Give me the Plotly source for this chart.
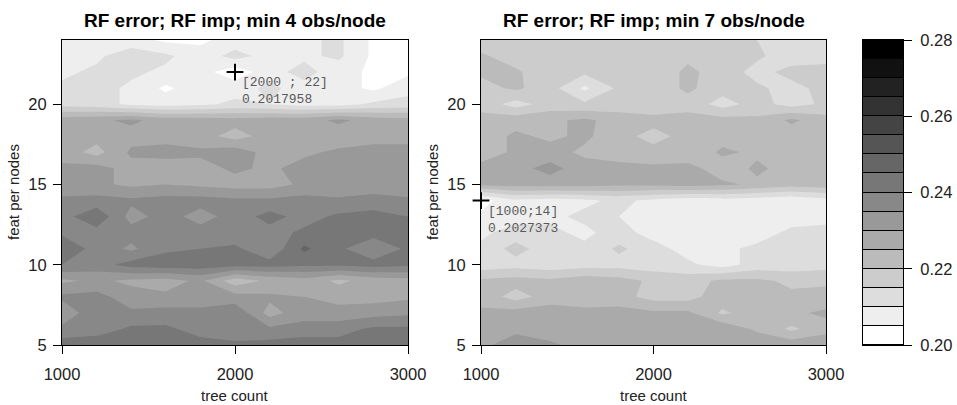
import plotly.graph_objects as go

# ---------------- data ----------------
tree_count = [1000, 1200, 1400, 1600, 1800, 2000, 2200, 2400, 2600, 2800, 3000]
feat_per_node = list(range(5, 25))

# rows: feat per node 5..24 ; columns: tree count 1000..3000
err_min4 = [
    [0.243, 0.244, 0.243, 0.242, 0.242, 0.241, 0.242, 0.243, 0.242, 0.241, 0.242],  # 5
    [0.236, 0.237, 0.241, 0.241, 0.238, 0.237, 0.236, 0.237, 0.238, 0.241, 0.241],  # 6
    [0.232, 0.238, 0.236, 0.237, 0.236, 0.239, 0.228, 0.233, 0.232, 0.233, 0.234],  # 7
    [0.236, 0.237, 0.232, 0.231, 0.233, 0.232, 0.231, 0.230, 0.228, 0.228, 0.229],  # 8
    [0.229, 0.231, 0.229, 0.228, 0.231, 0.222, 0.226, 0.228, 0.224, 0.227, 0.228],  # 9
    [0.240, 0.238, 0.242, 0.243, 0.243, 0.242, 0.242, 0.241, 0.241, 0.242, 0.241],  # 10
    [0.244, 0.238, 0.234, 0.239, 0.240, 0.241, 0.236, 0.246, 0.241, 0.236, 0.241],  # 11
    [0.239, 0.238, 0.237, 0.238, 0.237, 0.237, 0.238, 0.241, 0.242, 0.242, 0.241],  # 12
    [0.238, 0.244, 0.233, 0.237, 0.233, 0.237, 0.242, 0.238, 0.241, 0.242, 0.240],  # 13
    [0.236, 0.237, 0.236, 0.237, 0.237, 0.236, 0.236, 0.237, 0.236, 0.237, 0.236],  # 14
    [0.232, 0.231, 0.229, 0.230, 0.229, 0.228, 0.228, 0.231, 0.231, 0.232, 0.231],  # 15
    [0.231, 0.232, 0.228, 0.227, 0.228, 0.231, 0.229, 0.232, 0.233, 0.232, 0.233],  # 16
    [0.228, 0.223, 0.231, 0.232, 0.231, 0.233, 0.228, 0.229, 0.231, 0.232, 0.232],  # 17
    [0.228, 0.227, 0.228, 0.228, 0.227, 0.223, 0.227, 0.228, 0.227, 0.228, 0.228],  # 18
    [0.228, 0.229, 0.231, 0.228, 0.228, 0.227, 0.228, 0.228, 0.231, 0.228, 0.227],  # 19
    [0.213, 0.212, 0.209, 0.208, 0.209, 0.211, 0.210, 0.208, 0.208, 0.211, 0.212],  # 20
    [0.211, 0.212, 0.209, 0.204, 0.208, 0.208, 0.211, 0.208, 0.207, 0.204, 0.208],  # 21
    [0.209, 0.211, 0.211, 0.209, 0.207, 0.2017958, 0.208, 0.212, 0.207, 0.204, 0.204],  # 22
    [0.208, 0.209, 0.213, 0.211, 0.207, 0.212, 0.208, 0.209, 0.211, 0.204, 0.204],  # 23
    [0.209, 0.208, 0.207, 0.204, 0.204, 0.207, 0.208, 0.209, 0.211, 0.204, 0.205],  # 24
]

err_min7 = [
    [0.229, 0.232, 0.231, 0.228, 0.229, 0.229, 0.230, 0.229, 0.229, 0.228, 0.229],  # 5
    [0.228, 0.229, 0.227, 0.228, 0.227, 0.228, 0.227, 0.229, 0.224, 0.219, 0.223],  # 6
    [0.226, 0.227, 0.228, 0.226, 0.227, 0.226, 0.226, 0.219, 0.223, 0.224, 0.226],  # 7
    [0.223, 0.218, 0.222, 0.223, 0.222, 0.218, 0.218, 0.223, 0.222, 0.221, 0.222],  # 8
    [0.221, 0.222, 0.221, 0.223, 0.222, 0.219, 0.218, 0.221, 0.221, 0.219, 0.219],  # 9
    [0.212, 0.213, 0.212, 0.213, 0.213, 0.212, 0.211, 0.208, 0.212, 0.212, 0.213],  # 10
    [0.211, 0.217, 0.212, 0.211, 0.216, 0.212, 0.208, 0.209, 0.211, 0.212, 0.211],  # 11
    [0.209, 0.212, 0.211, 0.209, 0.212, 0.208, 0.207, 0.208, 0.208, 0.211, 0.211],  # 12
    [0.206, 0.208, 0.209, 0.211, 0.210, 0.209, 0.207, 0.206, 0.207, 0.208, 0.209],  # 13
    [0.2027373, 0.209, 0.208, 0.209, 0.211, 0.209, 0.207, 0.208, 0.207, 0.206, 0.208],  # 14
    [0.226, 0.227, 0.227, 0.227, 0.226, 0.226, 0.227, 0.226, 0.224, 0.222, 0.223],  # 15
    [0.227, 0.228, 0.232, 0.227, 0.227, 0.226, 0.227, 0.222, 0.226, 0.223, 0.224],  # 16
    [0.222, 0.226, 0.227, 0.224, 0.222, 0.222, 0.221, 0.226, 0.224, 0.223, 0.222],  # 17
    [0.222, 0.226, 0.224, 0.226, 0.222, 0.218, 0.222, 0.223, 0.223, 0.222, 0.222],  # 18
    [0.222, 0.223, 0.224, 0.226, 0.223, 0.222, 0.222, 0.222, 0.221, 0.226, 0.222],  # 19
    [0.218, 0.213, 0.217, 0.216, 0.217, 0.216, 0.218, 0.213, 0.217, 0.213, 0.216],  # 20
    [0.218, 0.221, 0.217, 0.209, 0.216, 0.217, 0.221, 0.217, 0.216, 0.213, 0.217],  # 21
    [0.221, 0.221, 0.216, 0.216, 0.219, 0.217, 0.221, 0.218, 0.213, 0.217, 0.216],  # 22
    [0.221, 0.217, 0.216, 0.217, 0.220, 0.218, 0.219, 0.217, 0.216, 0.212, 0.214],  # 23
    [0.216, 0.219, 0.216, 0.215, 0.218, 0.217, 0.216, 0.216, 0.215, 0.215, 0.213],  # 24
]

level_start, level_end, level_step = 0.20, 0.28, 0.005
n_bins = 16
bin_centers = [round(level_start + level_step * (k + 0.5), 4) for k in range(n_bins)]
colorbar_ticks = [0.20, 0.22, 0.24, 0.26, 0.28]

titles = ["RF error; RF imp; min 4 obs/node", "RF error; RF imp; min 7 obs/node"]
x_ticks = [1000, 2000, 3000]
y_ticks = [5, 10, 15, 20]

marks = [  # (x, y, label) highlighted minimum
    (2000, 22, "[2000 ; 22]<br>0.2017958"),
    (1000, 14, "[1000;14]<br>0.2027373"),
]

# ---------------- colours (grey steps, white -> black) ----------------
greys = [round(255 * (1 - k / (n_bins - 1))) for k in range(n_bins)]
cols = [f"rgb({g},{g},{g})" for g in greys]
colorscale = []
for k, c in enumerate(cols):
    lo = 0.0 if k == 0 else (k + 0.5) / 17
    hi = 1.0 if k == n_bins - 1 else (k + 1.5) / 17
    colorscale.append([lo, c])
    colorscale.append([hi, c])

FONT = "Liberation Sans, Arial, Helvetica, sans-serif"
W, H = 957, 405

def px_x(p):
    return p / W

def px_y(p):
    return 1 - p / H

fig = go.Figure()

for i, z in enumerate([err_min4, err_min7]):
    xa = "x" if i == 0 else "x2"
    ya = "y" if i == 0 else "y2"
    fig.add_trace(go.Contour(
        x=tree_count, y=feat_per_node, z=z,
        xaxis=xa, yaxis=ya,
        colorscale=colorscale, zmin=level_start, zmax=level_end, zauto=False,
        autocontour=False,
        contours=dict(start=level_start, end=level_end, size=level_step,
                      coloring="fill", showlines=False),
        line=dict(width=0, smoothing=0),
        showscale=False, hoverinfo="skip",
    ))
    mx, my, txt = marks[i]
    fig.add_trace(go.Scatter(
        x=[mx], y=[my], xaxis=xa, yaxis=ya, mode="markers",
        marker=dict(symbol="cross-thin", size=12, line=dict(width=2, color="black")),
        showlegend=False, hoverinfo="skip", cliponaxis=False,
    ))
    fig.add_annotation(
        x=mx, y=my, xref=xa, yref=ya, text=txt, showarrow=False,
        xanchor="left", yanchor="top", align="left", xshift=5, yshift=-1,
        font=dict(family="Liberation Mono, Courier New, monospace", size=13, color="#5a5a5a"),
    )

# colour key as its own heatmap
fig.add_trace(go.Heatmap(
    x=[0], y=bin_centers, z=[[v] for v in bin_centers],
    xaxis="x3", yaxis="y3", colorscale=colorscale,
    zmin=level_start, zmax=level_end, showscale=False, ygap=1, hoverinfo="skip",
))

ydom = [px_y(345), px_y(40)]
axis_common = dict(showline=True, mirror=True, linecolor="black", linewidth=1,
                   showgrid=False, zeroline=False, ticks="outside", ticklen=8,
                   tickwidth=1, tickcolor="black", automargin=False,
                   tickfont=dict(family=FONT, size=16.5, color="#222222"))

fig.update_layout(
    width=W, height=H, margin=dict(l=0, r=0, t=0, b=0, autoexpand=False),
    paper_bgcolor="white", plot_bgcolor="black", showlegend=False,
    xaxis=dict(domain=[px_x(62), px_x(408)], range=[1000, 3000], tickvals=x_ticks,
               anchor="y", ticklabelstandoff=6, **axis_common),
    yaxis=dict(domain=ydom, range=[5, 24], tickvals=y_ticks, anchor="x",
               ticklabelstandoff=3, **axis_common),
    xaxis2=dict(domain=[px_x(481), px_x(826)], range=[1000, 3000], tickvals=x_ticks,
                anchor="y2", ticklabelstandoff=6, **axis_common),
    yaxis2=dict(domain=ydom, range=[5, 24], tickvals=y_ticks, anchor="x2",
                ticklabelstandoff=3, **axis_common),
    xaxis3=dict(domain=[px_x(863), px_x(903)], range=[-0.5, 0.5], anchor="y3",
                showline=True, mirror=True, linecolor="black", linewidth=1,
                showgrid=False, zeroline=False, showticklabels=False, ticks="",
                automargin=False),
    yaxis3=dict(domain=ydom, range=[level_start, level_end], anchor="x3", side="right",
                tickvals=colorbar_ticks, tickformat=".2f", ticklabelstandoff=5,
                **axis_common),
)

# titles and axis labels
for i, t in enumerate(titles):
    cx = (62 + 408) / 2 if i == 0 else (481 + 826) / 2
    fig.add_annotation(x=px_x(cx), y=px_y(21), xref="paper", yref="paper", text=f"<b>{t}</b>",
                       showarrow=False, xanchor="center", yanchor="middle",
                       font=dict(family=FONT, size=19, color="black"))
    fig.add_annotation(x=px_x(cx), y=px_y(395), xref="paper", yref="paper", text="tree count",
                       showarrow=False, xanchor="center", yanchor="middle",
                       font=dict(family=FONT, size=15, color="#222222"))
    lx = 13 if i == 0 else 432
    fig.add_annotation(x=px_x(lx), y=px_y(192), xref="paper", yref="paper", text="feat per nodes",
                       showarrow=False, xanchor="center", yanchor="middle", textangle=-90,
                       font=dict(family=FONT, size=15, color="#222222"))

fig.write_html("out.html")
